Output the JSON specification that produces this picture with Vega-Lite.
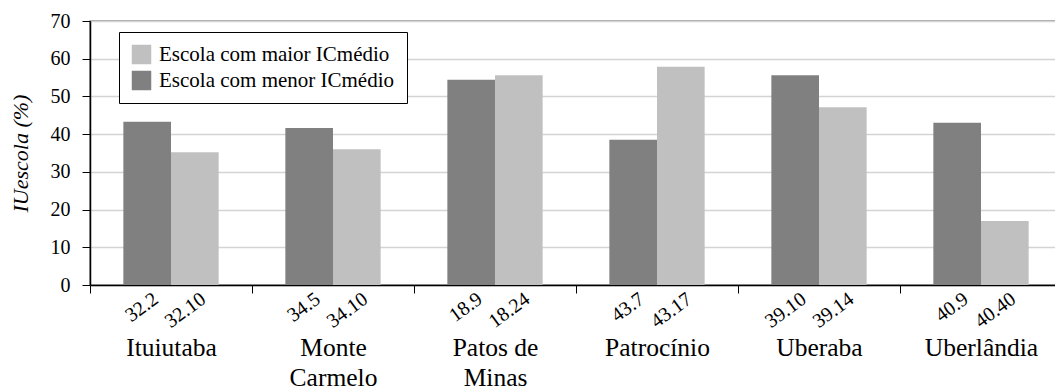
{
  "$schema": "https://vega.github.io/schema/vega-lite/v6.json",
  "autosize": "none",
  "width": 972,
  "height": 264,
  "padding": {"left": 90, "top": 21, "right": 0, "bottom": 103},
  "background": "white",
  "config": {
    "font": "Liberation Serif",
    "view": {"stroke": "#8a8a8a", "strokeWidth": 1.5},
    "axis": {"labelFont": "Liberation Serif", "titleFont": "Liberation Serif"},
    "legend": {"labelFont": "Liberation Serif"},
    "text": {"font": "Liberation Serif"}
  },
  "data": {
    "values": [
      {"city": "Ituiutaba", "series": "Escola com menor ICmédio", "value": 43.3, "code": "32.2"},
      {"city": "Ituiutaba", "series": "Escola com maior ICmédio", "value": 35.2, "code": "32.10"},
      {"city": "Monte|Carmelo", "series": "Escola com menor ICmédio", "value": 41.6, "code": "34.5"},
      {"city": "Monte|Carmelo", "series": "Escola com maior ICmédio", "value": 36.0, "code": "34.10"},
      {"city": "Patos de|Minas", "series": "Escola com menor ICmédio", "value": 54.4, "code": "18.9"},
      {"city": "Patos de|Minas", "series": "Escola com maior ICmédio", "value": 55.6, "code": "18.24"},
      {"city": "Patrocínio", "series": "Escola com menor ICmédio", "value": 38.5, "code": "43.7"},
      {"city": "Patrocínio", "series": "Escola com maior ICmédio", "value": 57.9, "code": "43.17"},
      {"city": "Uberaba", "series": "Escola com menor ICmédio", "value": 55.6, "code": "39.10"},
      {"city": "Uberaba", "series": "Escola com maior ICmédio", "value": 47.1, "code": "39.14"},
      {"city": "Uberlândia", "series": "Escola com menor ICmédio", "value": 43.0, "code": "40.9"},
      {"city": "Uberlândia", "series": "Escola com maior ICmédio", "value": 17.0, "code": "40.40"}
    ]
  },
  "encoding": {
    "x": {
      "field": "city",
      "type": "nominal",
      "sort": null,
      "scale": {"paddingInner": 0, "paddingOuter": 0},
      "axis": {
        "title": null,
        "labelAngle": 0,
        "labelExpr": "split(datum.label, '|')",
        "labelFont": "Liberation Serif",
        "labelFontSize": 25.5,
        "labelColor": "black",
        "labelLineHeight": 30,
        "labelPadding": 42,
        "labelOverlap": false,
        "labelBound": false,
        "tickBand": "extent",
        "tickSize": 8,
        "tickColor": "black",
        "domainColor": "black",
        "domainWidth": 1.5,
        "grid": false
      }
    },
    "xOffset": {
      "field": "series",
      "type": "nominal",
      "sort": ["Escola com menor ICmédio", "Escola com maior ICmédio"],
      "scale": {"paddingInner": 0, "paddingOuter": 0.7}
    }
  },
  "layer": [
    {
      "mark": {"type": "bar"},
      "encoding": {
        "y": {
          "field": "value",
          "type": "quantitative",
          "scale": {"domain": [0, 70], "nice": false},
          "axis": {
            "values": [0, 10, 20, 30, 40, 50, 60, 70],
            "title": "IUescola (%)",
            "titleFont": "Liberation Serif",
            "titleFontStyle": "italic",
            "titleFontWeight": "normal",
            "titleFontSize": 22,
            "titleColor": "black",
            "titlePadding": 18,
            "labelFont": "Liberation Serif",
            "labelFontSize": 20,
            "labelColor": "black",
            "labelPadding": 12,
            "labelOverlap": false,
            "labelFlush": false,
            "tickSize": 8,
            "tickColor": "black",
            "domainColor": "black",
            "domainWidth": 1.5,
            "gridColor": "#d4d4d4",
            "gridWidth": 1.5
          }
        },
        "color": {
          "field": "series",
          "type": "nominal",
          "scale": {
            "domain": ["Escola com maior ICmédio", "Escola com menor ICmédio"],
            "range": ["#c0c0c0", "#808080"]
          },
          "legend": {
            "title": null,
            "orient": "none",
            "legendX": 29,
            "legendY": 11,
            "symbolType": "square",
            "symbolSize": 380,
            "symbolStrokeWidth": 0,
            "labelFont": "Liberation Serif",
            "labelFontSize": 21,
            "labelColor": "black",
            "labelLimit": 400,
            "rowPadding": 4,
            "padding": 12,
            "strokeColor": "black",
            "fillColor": "white",
            "labelOffset": 7
          }
        }
      }
    },
    {
      "mark": {
        "type": "text",
        "font": "Liberation Serif",
        "angle": -36,
        "align": "right",
        "baseline": "top",
        "fontSize": 20,
        "dy": 5,
        "color": "black"
      },
      "encoding": {
        "y": {
          "datum": 0,
          "type": "quantitative",
          "axis": {
            "values": [0, 10, 20, 30, 40, 50, 60, 70],
            "title": "IUescola (%)",
            "titleFont": "Liberation Serif",
            "titleFontStyle": "italic",
            "titleFontWeight": "normal",
            "titleFontSize": 22,
            "titleColor": "black",
            "titlePadding": 18,
            "labelFont": "Liberation Serif",
            "labelFontSize": 20,
            "labelColor": "black",
            "labelPadding": 12,
            "labelOverlap": false,
            "labelFlush": false,
            "tickSize": 8,
            "tickColor": "black",
            "domainColor": "black",
            "domainWidth": 1.5,
            "gridColor": "#d4d4d4",
            "gridWidth": 1.5
          }
        },
        "text": {"field": "code"}
      }
    }
  ]
}
